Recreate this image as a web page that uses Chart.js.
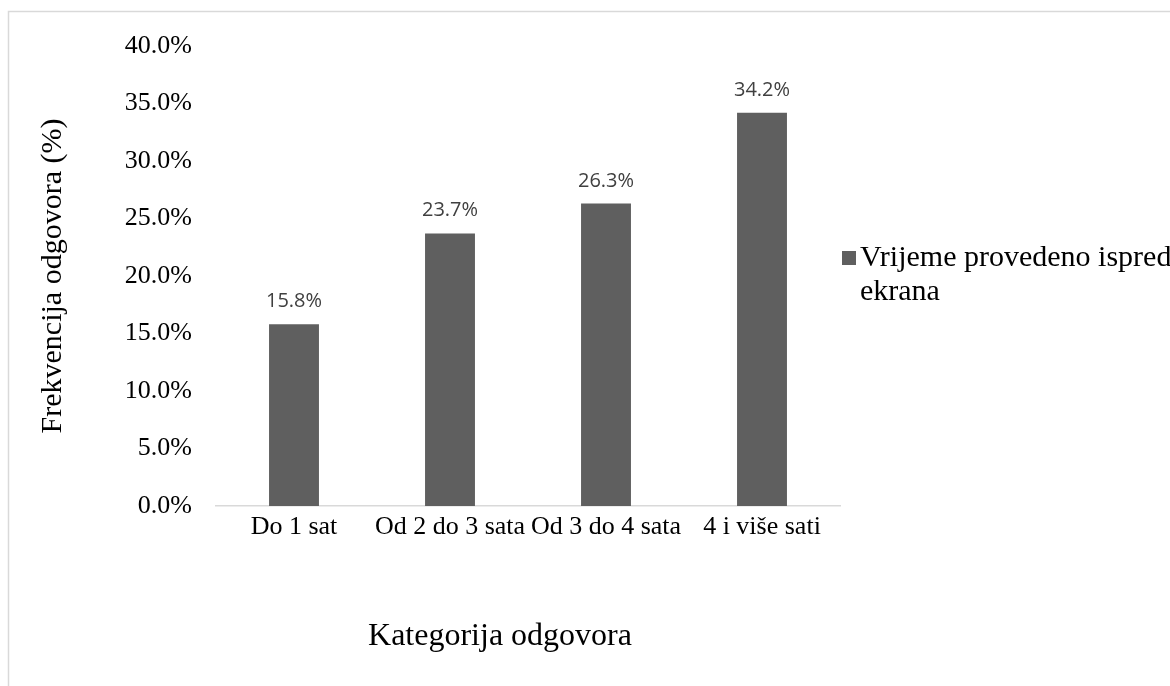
<!DOCTYPE html>
<html>
<head>
<meta charset="utf-8">
<script src="https://cdn.jsdelivr.net/npm/chart.js@4.4.1/dist/chart.umd.min.js"></script>
<style>
  html, body { margin: 0; padding: 0; background: #ffffff; }
  #wrap { width: 1170px; height: 686px; position: relative; }
</style>
</head>
<body>
<div id="wrap"><canvas id="c" width="1170" height="686"></canvas></div>
<script>
const categories = ['Do 1 sat', 'Od 2 do 3 sata', 'Od 3 do 4 sata', '4 i više sati'];
const values = [15.8, 23.7, 26.3, 34.2];
const seriesName = 'Vrijeme provedeno ispred ekrana';
const legendLines = ['Vrijeme provedeno ispred', 'ekrana'];
const yTitle = 'Frekvencija odgovora (%)';
const xTitle = 'Kategorija odgovora';
const yMin = 0, yMax = 40, yStep = 5;

const SERIF = '"Liberation Serif", "Times New Roman", serif';
const SANS = '"Open Sans", "Noto Sans", sans-serif';
const BAR = '#5f5f5f';

const framePlugin = {
  id: 'frame',
  beforeDraw(chart) {
    const ctx = chart.ctx;
    ctx.save();
    ctx.fillStyle = '#ffffff';
    ctx.fillRect(0, 0, chart.width, chart.height);
    ctx.strokeStyle = '#d9d9d9';
    ctx.lineWidth = 1.5;
    ctx.beginPath();
    ctx.moveTo(8.5, chart.height);
    ctx.lineTo(8.5, 11.5);
    ctx.lineTo(chart.width, 11.5);
    ctx.stroke();
    ctx.restore();
  }
};

const labelPlugin = {
  id: 'barLabels',
  afterDatasetsDraw(chart) {
    const ctx = chart.ctx;
    const meta = chart.getDatasetMeta(0);
    ctx.save();
    ctx.font = '20px ' + SANS;
    ctx.fillStyle = '#404040';
    ctx.textAlign = 'center';
    ctx.textBaseline = 'alphabetic';
    meta.data.forEach((bar, i) => {
      const v = chart.data.datasets[0].data[i];
      ctx.fillText(v.toFixed(1) + '%', bar.x, bar.y - 17);
    });
    ctx.restore();
  }
};

const legendPlugin = {
  id: 'customLegend',
  afterDraw(chart) {
    const ctx = chart.ctx;
    const ds = chart.data.datasets[0];
    const x0 = chart.chartArea.right + 2;
    const yMid = (chart.chartArea.top + chart.chartArea.bottom) / 2;
    const lh = 34;
    const y0 = yMid - 18;
    ctx.save();
    ctx.fillStyle = ds.backgroundColor;
    ctx.fillRect(x0, y0 - 7, 14, 14);
    ctx.font = '30px ' + SERIF;
    ctx.fillStyle = '#000000';
    ctx.textAlign = 'left';
    ctx.textBaseline = 'middle';
    legendLines.forEach((t, i) => ctx.fillText(t, x0 + 18, y0 + i * lh));
    ctx.restore();
  }
};

new Chart(document.getElementById('c'), {
  type: 'bar',
  data: {
    labels: categories,
    datasets: [{
      label: seriesName,
      data: values,
      backgroundColor: BAR,
      borderWidth: 0,
      categoryPercentage: 1.0,
      barPercentage: 0.32
    }]
  },
  options: {
    responsive: false,
    animation: false,
    devicePixelRatio: 1,
    layout: { padding: { top: 46, right: 330, bottom: 0, left: 0 } },
    plugins: {
      legend: { display: false },
      tooltip: { enabled: false },
      title: { display: false }
    },
    scales: {
      x: {
        grid: { display: false, drawTicks: false },
        border: { display: true, color: '#d9d9d9', width: 1.5 },
        ticks: { color: '#000000', font: { family: SERIF, size: 26 }, padding: 6, maxRotation: 0, autoSkip: false },
        title: {
          display: true, text: xTitle + '\u00A0\u00A0\u00A0\u00A0\u00A0\u00A0\u00A0', color: '#000000',
          font: { family: SERIF, size: 32 }, padding: { top: 0, bottom: 30 }
        },
        afterFit(s) { s.height = 180; }
      },
      y: {
        min: yMin, max: yMax,
        grid: { display: false, drawTicks: false },
        border: { display: false },
        ticks: {
          stepSize: yStep, color: '#000000', padding: 24,
          font: { family: SERIF, size: 26 },
          callback: v => Number(v).toFixed(1) + '%'
        },
        title: {
          display: true, text: yTitle, color: '#000000',
          font: { family: SERIF, size: 30 }, padding: { top: 35, bottom: 0 }
        },
        afterFit(s) { s.width = 216; }
      }
    }
  },
  plugins: [framePlugin, labelPlugin, legendPlugin]
});
</script>
</body>
</html>
